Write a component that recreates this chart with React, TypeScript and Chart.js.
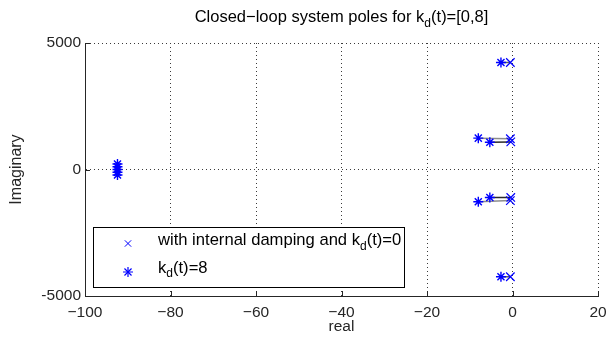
import React, { useEffect, useRef } from 'react';
import { Chart, registerables } from 'chart.js';

Chart.register(...registerables);

// ---- data ----
const xTicks = [-100, -80, -60, -40, -20, 0, 20];
const yTicks = [-5000, 0, 5000];

// poles with internal damping and kd(t)=0 (crosses)
const kd0Real = [-0.5, -0.5, -0.4, -0.4, -0.5, -0.5];
const kd0Imag = [4230, 1215, 1090, -1105, -1230, -4240];

// poles for kd(t)=8 (asterisks)
const kd8Real = [-2.7, -8.0, -5.3, -5.3, -8.0, -2.7, -92.4, -92.4, -92.4, -92.4, -92.4];
const kd8Imag = [4230, 1240, 1080, -1107, -1277, -4240, 220, 110, 0, -110, -220];

// trajectories joining kd=0 pole i to kd=8 pole i
const trajIndex = [0, 1, 2, 3, 4, 5];

const titleMain = 'Closed\u2212loop system poles for k';
const titleSub = 'd';
const titleTail = '(t)=[0,8]';
const legend1 = ['with internal damping and k', 'd', '(t)=0'];
const legend2 = ['k', 'd', '(t)=8'];
const xLabel = 'real';
const yLabel = 'Imaginary';

const FONT = '"Liberation Sans", Arial, Helvetica, sans-serif';
const BLUE = '#0000ff';
const TEXT = '#262626';
const trajColors = ['#5a5a6e', '#8c8c8c', '#2a2a2a', '#2a2a2a', '#8c8c8c', '#5a5a6e'];

function drawSubText(ctx: CanvasRenderingContext2D, parts: string[], x: number, y: number, size: number, align: 'left' | 'center') {
  const big = `${size}px ${FONT}`;
  const small = `${Math.round(size * 0.72)}px ${FONT}`;
  ctx.font = big;
  const w0 = ctx.measureText(parts[0]).width;
  const w2 = ctx.measureText(parts[2]).width;
  ctx.font = small;
  const w1 = ctx.measureText(parts[1]).width;
  const total = w0 + w1 + w2;
  let sx = align === 'center' ? x - total / 2 : x;
  ctx.textAlign = 'left';
  ctx.textBaseline = 'alphabetic';
  ctx.font = big;
  ctx.fillText(parts[0], sx, y);
  sx += w0;
  ctx.font = small;
  ctx.fillText(parts[1], sx, y + size * 0.3);
  sx += w1;
  ctx.font = big;
  ctx.fillText(parts[2], sx, y);
}

function drawCross(ctx: CanvasRenderingContext2D, x: number, y: number, r: number) {
  const d = r * Math.SQRT1_2;
  ctx.beginPath();
  ctx.moveTo(x - d, y - d); ctx.lineTo(x + d, y + d);
  ctx.moveTo(x + d, y - d); ctx.lineTo(x - d, y + d);
  ctx.stroke();
}
function drawStar(ctx: CanvasRenderingContext2D, x: number, y: number, r: number) {
  drawCross(ctx, x, y, r);
  ctx.beginPath();
  ctx.moveTo(x - r, y); ctx.lineTo(x + r, y);
  ctx.moveTo(x, y - r); ctx.lineTo(x, y + r);
  ctx.stroke();
}

const decorPlugin = {
  id: 'decor',
  afterDatasetsDraw(chart: any) {
    const ctx = chart.ctx as CanvasRenderingContext2D;
    const { left, right, bottom } = chart.chartArea;
    const xs = chart.scales.x;
    const ys = chart.scales.y;
    ctx.save();
    // inward ticks
    ctx.strokeStyle = TEXT;
    ctx.lineWidth = 1;
    ctx.beginPath();
    xTicks.forEach((v) => {
      const px = Math.round(xs.getPixelForValue(v)) + 0.5;
      ctx.moveTo(px, bottom);
      ctx.lineTo(px, bottom - 5);
    });
    yTicks.forEach((v) => {
      const py = Math.round(ys.getPixelForValue(v)) + 0.5;
      ctx.moveTo(left, py);
      ctx.lineTo(left + 5, py);
    });
    ctx.stroke();

    // title
    ctx.fillStyle = '#000';
    drawSubText(ctx, [titleMain, titleSub, titleTail], (left + right) / 2, 22, 16.5, 'center');

    // legend
    const lx = 93, ly = 227, lw = 311, lh = 60;
    ctx.fillStyle = '#fff';
    ctx.fillRect(lx, ly, lw, lh);
    ctx.strokeStyle = '#000';
    ctx.lineWidth = 1;
    ctx.strokeRect(lx + 0.5, ly + 0.5, lw, lh);
    ctx.strokeStyle = BLUE;
    ctx.lineWidth = 1;
    drawCross(ctx, 128, 243.5, 4.5);
    ctx.lineWidth = 1.2;
    drawStar(ctx, 128, 272, 5);
    ctx.fillStyle = '#000';
    drawSubText(ctx, legend1, 158, 245, 16.6, 'left');
    drawSubText(ctx, legend2, 158, 272.5, 16.6, 'left');
    ctx.restore();
  },
};

export default function App() {
  const ref = useRef<HTMLCanvasElement>(null);
  useEffect(() => {
    if (!ref.current) return;
    const trajSets = trajIndex.map((i) => ({
      label: 'traj' + i,
      type: 'line' as const,
      data: [
        { x: kd8Real[i], y: kd8Imag[i] },
        { x: kd0Real[i], y: kd0Imag[i] },
      ],
      showLine: true,
      borderColor: trajColors[i],
      borderWidth: 1.5,
      pointRadius: 0,
      order: 3,
    }));
    const chart = new Chart(ref.current, {
      type: 'scatter',
      data: {
        datasets: [
          ...trajSets,
          {
            label: 'kd0',
            data: kd0Real.map((x, i) => ({ x, y: kd0Imag[i] })),
            pointStyle: 'crossRot',
            pointRadius: 6,
            pointBorderColor: BLUE,
            pointBackgroundColor: BLUE,
            pointBorderWidth: 1.2,
            showLine: false,
            order: 1,
          },
          {
            label: 'kd8',
            data: kd8Real.map((x, i) => ({ x, y: kd8Imag[i] })),
            pointStyle: 'star',
            pointRadius: 5,
            pointBorderColor: BLUE,
            pointBackgroundColor: BLUE,
            pointBorderWidth: 1.4,
            showLine: false,
            order: 2,
          },
        ] as any,
      },
      options: {
        responsive: false,
        animation: false,
        events: [],
        layout: { padding: { top: 43, right: 10, left: 0, bottom: 0 } },
        plugins: {
          legend: { display: false },
          title: { display: false },
          tooltip: { enabled: false },
        },
        scales: {
          x: {
            type: 'linear',
            min: -100,
            max: 20,
            afterBuildTicks: (s: any) => { s.ticks = xTicks.map((v) => ({ value: v })); },
            afterFit: (s: any) => { s.height = 42; s.paddingLeft = 0; s.paddingRight = 0; },
            ticks: {
              color: TEXT,
              font: { family: FONT, size: 15.5 },
              padding: 7,
              maxRotation: 0,
              autoSkip: false,
              callback: (v: any) => (v < 0 ? '\u2212' + Math.abs(v) : String(v)),
            },
            grid: { color: '#3a3a3a', drawTicks: false, lineWidth: 1 },
            border: { display: true, color: TEXT, width: 1, dash: [1, 3] },
            title: {
              display: true,
              text: xLabel,
              color: TEXT,
              font: { family: FONT, size: 15.5 },
              padding: { top: 0, bottom: 2 },
            },
          },
          y: {
            type: 'linear',
            min: -5000,
            max: 5000,
            afterBuildTicks: (s: any) => { s.ticks = yTicks.map((v) => ({ value: v })); },
            afterFit: (s: any) => { s.width = 85; s.paddingTop = 0; s.paddingBottom = 0; },
            ticks: {
              color: TEXT,
              font: { family: FONT, size: 15.5 },
              padding: 4,
              autoSkip: false,
              callback: (v: any) => String(v),
            },
            grid: { color: '#3a3a3a', drawTicks: false, lineWidth: 1 },
            border: { display: true, color: TEXT, width: 1, dash: [1, 3] },
            title: {
              display: true,
              text: yLabel,
              color: TEXT,
              font: { family: FONT, size: 16 },
              padding: { top: 7, bottom: 0 },
            },
          },
        },
      } as any,
      plugins: [decorPlugin],
    });
    return () => chart.destroy();
  }, []);
  return (
    <div style={{ position: 'fixed', left: 0, top: 0, width: 608, height: 338, background: '#fff' }}>
      <canvas ref={ref} width={608} height={338} style={{ display: 'block' }} />
    </div>
  );
}
